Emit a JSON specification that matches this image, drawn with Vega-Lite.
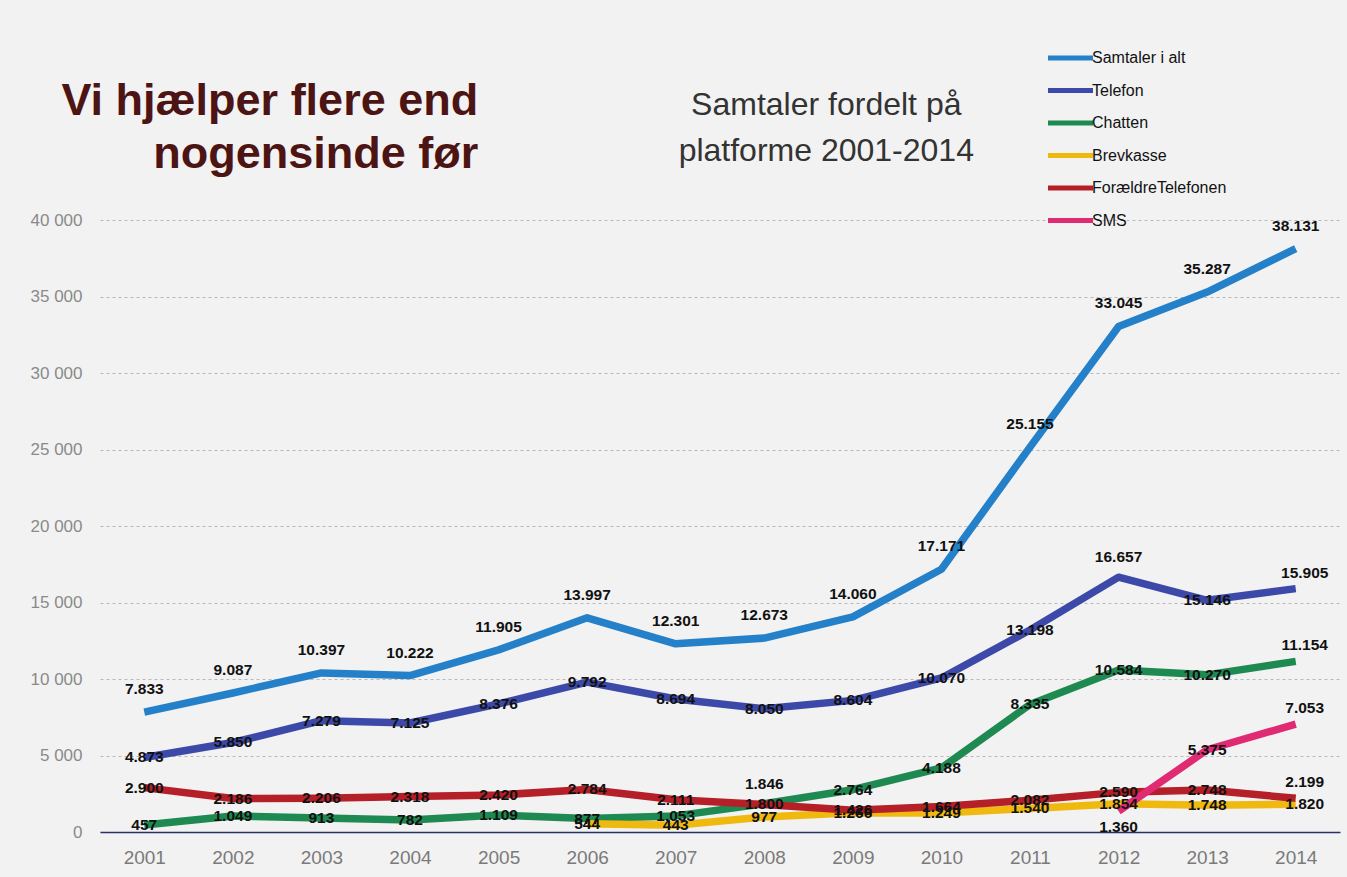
{
  "$schema": "https://vega.github.io/schema/vega-lite/v6.json",
  "width": 1240,
  "height": 612,
  "autosize": {"type": "none"},
  "padding": {"left": 100, "top": 220, "right": 7, "bottom": 45},
  "background": "#f2f2f2",
  "config": {
    "locale": {"number": {"decimal": ",", "thousands": ".", "grouping": [3], "currency": ["", ""]}},
    "view": {"stroke": null},
    "font": "Liberation Sans"
  },
  "data": {
    "values": [
      {"year": 2001, "series": "Samtaler i alt", "value": 7833},
      {"year": 2002, "series": "Samtaler i alt", "value": 9087},
      {"year": 2003, "series": "Samtaler i alt", "value": 10397},
      {"year": 2004, "series": "Samtaler i alt", "value": 10222},
      {"year": 2005, "series": "Samtaler i alt", "value": 11905},
      {"year": 2006, "series": "Samtaler i alt", "value": 13997},
      {"year": 2007, "series": "Samtaler i alt", "value": 12301},
      {"year": 2008, "series": "Samtaler i alt", "value": 12673},
      {"year": 2009, "series": "Samtaler i alt", "value": 14060},
      {"year": 2010, "series": "Samtaler i alt", "value": 17171},
      {"year": 2011, "series": "Samtaler i alt", "value": 25155},
      {"year": 2012, "series": "Samtaler i alt", "value": 33045},
      {"year": 2013, "series": "Samtaler i alt", "value": 35287},
      {"year": 2014, "series": "Samtaler i alt", "value": 38131},
      {"year": 2001, "series": "Telefon", "value": 4873},
      {"year": 2002, "series": "Telefon", "value": 5850},
      {"year": 2003, "series": "Telefon", "value": 7279},
      {"year": 2004, "series": "Telefon", "value": 7125},
      {"year": 2005, "series": "Telefon", "value": 8376},
      {"year": 2006, "series": "Telefon", "value": 9792},
      {"year": 2007, "series": "Telefon", "value": 8694},
      {"year": 2008, "series": "Telefon", "value": 8050},
      {"year": 2009, "series": "Telefon", "value": 8604},
      {"year": 2010, "series": "Telefon", "value": 10070},
      {"year": 2011, "series": "Telefon", "value": 13198},
      {"year": 2012, "series": "Telefon", "value": 16657},
      {"year": 2013, "series": "Telefon", "value": 15146},
      {"year": 2014, "series": "Telefon", "value": 15905},
      {"year": 2001, "series": "Chatten", "value": 457},
      {"year": 2002, "series": "Chatten", "value": 1049},
      {"year": 2003, "series": "Chatten", "value": 913},
      {"year": 2004, "series": "Chatten", "value": 782},
      {"year": 2005, "series": "Chatten", "value": 1109},
      {"year": 2006, "series": "Chatten", "value": 877},
      {"year": 2007, "series": "Chatten", "value": 1053},
      {"year": 2008, "series": "Chatten", "value": 1846},
      {"year": 2009, "series": "Chatten", "value": 2764},
      {"year": 2010, "series": "Chatten", "value": 4188},
      {"year": 2011, "series": "Chatten", "value": 8335},
      {"year": 2012, "series": "Chatten", "value": 10584},
      {"year": 2013, "series": "Chatten", "value": 10270},
      {"year": 2014, "series": "Chatten", "value": 11154},
      {"year": 2006, "series": "Brevkasse", "value": 544},
      {"year": 2007, "series": "Brevkasse", "value": 443},
      {"year": 2008, "series": "Brevkasse", "value": 977},
      {"year": 2009, "series": "Brevkasse", "value": 1266},
      {"year": 2010, "series": "Brevkasse", "value": 1249},
      {"year": 2011, "series": "Brevkasse", "value": 1540},
      {"year": 2012, "series": "Brevkasse", "value": 1854},
      {"year": 2013, "series": "Brevkasse", "value": 1748},
      {"year": 2014, "series": "Brevkasse", "value": 1820},
      {"year": 2001, "series": "ForældreTelefonen", "value": 2900},
      {"year": 2002, "series": "ForældreTelefonen", "value": 2186},
      {"year": 2003, "series": "ForældreTelefonen", "value": 2206},
      {"year": 2004, "series": "ForældreTelefonen", "value": 2318},
      {"year": 2005, "series": "ForældreTelefonen", "value": 2420},
      {"year": 2006, "series": "ForældreTelefonen", "value": 2784},
      {"year": 2007, "series": "ForældreTelefonen", "value": 2111},
      {"year": 2008, "series": "ForældreTelefonen", "value": 1800},
      {"year": 2009, "series": "ForældreTelefonen", "value": 1426},
      {"year": 2010, "series": "ForældreTelefonen", "value": 1664},
      {"year": 2011, "series": "ForældreTelefonen", "value": 2082},
      {"year": 2012, "series": "ForældreTelefonen", "value": 2590},
      {"year": 2013, "series": "ForældreTelefonen", "value": 2748},
      {"year": 2014, "series": "ForældreTelefonen", "value": 2199},
      {"year": 2012, "series": "SMS", "value": 1360},
      {"year": 2013, "series": "SMS", "value": 5375},
      {"year": 2014, "series": "SMS", "value": 7053}
    ]
  },
  "encoding": {
    "x": {
      "field": "year",
      "type": "quantitative",
      "scale": {"domain": [2000.5, 2014.5]},
      "axis": {
        "values": [2001, 2002, 2003, 2004, 2005, 2006, 2007, 2008, 2009, 2010, 2011, 2012, 2013, 2014],
        "format": "d",
        "title": null,
        "grid": false,
        "ticks": false,
        "domainColor": "#2b2f6b",
        "domainWidth": 1.5,
        "labelColor": "#7a7a7a",
        "labelFontSize": 19,
        "labelPadding": 16,
        "labelFont": "Liberation Sans"
      }
    },
    "y": {
      "field": "value",
      "type": "quantitative",
      "scale": {"domain": [0, 40000]},
      "axis": {
        "values": [0, 5000, 10000, 15000, 20000, 25000, 30000, 35000, 40000],
        "format": ",d",
        "labelExpr": "replace(datum.label, '.', ' ')",
        "title": null,
        "domain": false,
        "ticks": false,
        "labelColor": "#8a8a8a",
        "labelFontSize": 17,
        "labelPadding": 18,
        "labelFont": "Liberation Sans",
        "gridColor": "#b8b8b8",
        "gridDash": [3, 3],
        "gridWidth": 1
      }
    }
  },
  "layer": [
    {
      "mark": {"type": "line", "strokeWidth": 7.5, "strokeJoin": "round"},
      "encoding": {
        "color": {
          "field": "series",
          "type": "nominal",
          "sort": null,
          "scale": {
            "domain": ["Samtaler i alt", "Telefon", "Chatten", "Brevkasse", "ForældreTelefonen", "SMS"],
            "range": ["#2480c8", "#3c49a8", "#1e8a52", "#f0b90f", "#b51f27", "#e02a72"]
          },
          "legend": {
            "orient": "none",
            "legendX": 980,
            "legendY": -170,
            "title": null,
            "symbolType": "M-8,0H1",
            "symbolSize": 100,
            "symbolStrokeWidth": 5,
            "labelFontSize": 16,
            "labelColor": "#111111",
            "labelFont": "Liberation Sans",
            "labelOffset": -4,
            "rowPadding": 12.5
          }
        }
      }
    },
    {
      "transform": [{"filter": "datum.series == 'Samtaler i alt'"}],
      "mark": {"type": "text", "dy": -23, "fontSize": 15.5, "fontWeight": "bold", "color": "#111111"},
      "encoding": {"text": {"field": "value", "type": "quantitative", "format": ",d"}}
    },
    {
      "transform": [{"filter": "datum.year == 2014 && datum.series != 'Samtaler i alt' && datum.series != 'Brevkasse'"}],
      "mark": {"type": "text", "dy": -16, "dx": 9, "fontSize": 15.5, "fontWeight": "bold", "color": "#111111"},
      "encoding": {"text": {"field": "value", "type": "quantitative", "format": ",d"}}
    },
    {
      "transform": [{"filter": "(datum.series == 'Telefon' && datum.year == 2012) || (datum.series == 'Chatten' && datum.year == 2008)"}],
      "mark": {"type": "text", "dy": -20, "fontSize": 15.5, "fontWeight": "bold", "color": "#111111"},
      "encoding": {"text": {"field": "value", "type": "quantitative", "format": ",d"}}
    },
    {
      "transform": [{"filter": "datum.series == 'SMS' && datum.year == 2012"}],
      "mark": {"type": "text", "dy": 16, "fontSize": 15.5, "fontWeight": "bold", "color": "#111111"},
      "encoding": {"text": {"field": "value", "type": "quantitative", "format": ",d"}}
    },
    {
      "transform": [{"filter": "datum.series == 'Brevkasse' && datum.year == 2014"}],
      "mark": {"type": "text", "dx": 9, "fontSize": 15.5, "fontWeight": "bold", "color": "#111111"},
      "encoding": {"text": {"field": "value", "type": "quantitative", "format": ",d"}}
    },
    {
      "transform": [{"filter": "datum.series != 'Samtaler i alt' && datum.year != 2014 && !(datum.series == 'Telefon' && datum.year == 2012) && !(datum.series == 'Chatten' && datum.year == 2008) && !(datum.series == 'SMS' && datum.year == 2012)"}],
      "mark": {"type": "text", "fontSize": 15.5, "fontWeight": "bold", "color": "#111111"},
      "encoding": {"text": {"field": "value", "type": "quantitative", "format": ",d"}}
    },
    {
      "transform": [{"filter": "datum.series == 'Samtaler i alt' && datum.year == 2001"}],
      "mark": {
        "type": "text",
        "text": ["Vi hjælper flere end", "nogensinde før"],
        "fontSize": 45,
        "fontWeight": "bold",
        "color": "#4d1414",
        "lineHeight": 53,
        "baseline": "alphabetic",
        "align": "right"
      },
      "encoding": {
        "x": {"datum": 2004.77},
        "y": {"datum": 46860}
      }
    },
    {
      "transform": [{"filter": "datum.series == 'Samtaler i alt' && datum.year == 2001"}],
      "mark": {
        "type": "text",
        "text": ["Samtaler fordelt på", "platforme 2001-2014"],
        "fontSize": 32,
        "color": "#333333",
        "lineHeight": 46,
        "baseline": "alphabetic",
        "align": "center"
      },
      "encoding": {
        "x": {"datum": 2008.7},
        "y": {"datum": 46860}
      }
    }
  ]
}
